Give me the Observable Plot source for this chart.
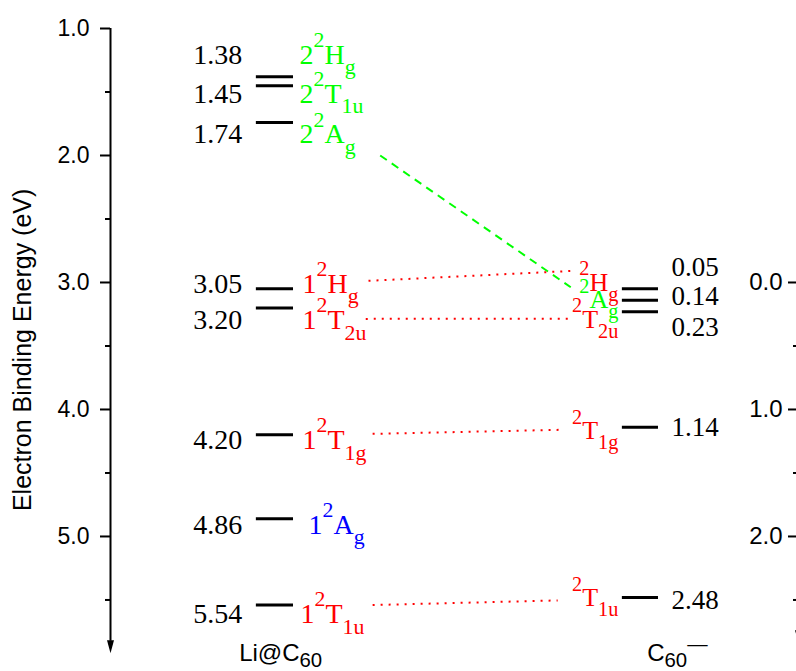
<!DOCTYPE html>
<html>
<head>
<meta charset="utf-8">
<script src="https://cdn.jsdelivr.net/npm/d3@7"></script>
<script src="https://cdn.jsdelivr.net/npm/@observablehq/plot@0.6"></script>
<style>
  html, body { margin: 0; padding: 0; background: #fff; overflow: hidden; }
  #chart svg { display: block; overflow: hidden; }
</style>
</head>
<body>
<div id="chart"></div>
<script>
// ---- Li@C60 states: term symbols (^{..} superscript, _{..} subscript), binding energies (eV)
const liStates   = ["2^{2}H_{g}", "2^{2}T_{1u}", "2^{2}A_{g}", "1^{2}H_{g}", "1^{2}T_{2u}", "1^{2}T_{1g}", "1^{2}A_{g}", "1^{2}T_{1u}"];
const liEnergies = [1.38, 1.45, 1.74, 3.05, 3.20, 4.20, 4.86, 5.54];
const liKinds    = ["second", "second", "second", "first", "first", "first", "unmatched", "first"];

// ---- C60⁻ states, energies on the right-hand scale (eV)
const c60States   = ["^{2}H_{g}", "^{2}A_{g}", "^{2}T_{2u}", "^{2}T_{1g}", "^{2}T_{1u}"];
const c60Energies = [0.05, 0.14, 0.23, 1.14, 2.48];
const c60Kinds    = ["first", "second", "first", "first", "first"];

// ---- correlated pairs [Li@C60 index, C60⁻ index]
const correlations = [[2, 1], [3, 0], [4, 2], [5, 3], [7, 4]];

// ---- axes
const leftTicks  = [1, 2, 3, 4, 5];
const leftMinor  = [1.5, 2.5, 3.5, 4.5, 5.5];
const rightTicks = [0, 1, 2];
const rightMinor = [0.5, 1.5, 2.5];
const rightZero  = 3.0;           // right-scale 0.0 sits level with 3.0 on the left scale
const axisTitle  = "Electron Binding Energy (eV)";
const columnNames = ["Li@C_{60}", "C_{60}^{—}"];

// ---- layout
const yDomain = [1.0, 5.92];
const yRange  = [28, 652.8];
const xRange  = [110, 798];
const pxPerEV = (yRange[1] - yRange[0]) / (yDomain[1] - yDomain[0]);
const ev  = px => px / pxPerEV;                           // vertical pixels -> eV
const xu  = px => px * 100 / (xRange[1] - xRange[0]);     // horizontal pixels -> x units
const LEFT_LEVEL  = [21.2, 26.6];
const RIGHT_LEVEL = [74.4, 79.65];
const leftLabelDy  = [-13, 17, 21, 4, 21, 14, 15, 18];
const leftStateDx  = [0, 0, 0, 3, 3, 3, 9, 1];
const rightStateDy = [2, 8, 16, 12, 9];
const rightValueDy = [-13, 5, 24, 9, 12];
const connectorX  = [[39.2, 66.9], [37.5, 67.3], [37.1, 66.9], [38.1, 65.7], [38.1, 65.0]];
const connectorDy = [[33, -13], [-8, -18], [11, 7], [-1, 2.5], [0, 3]];
const columnX = [18.7, 78.0];

const serif = "'Liberation Serif', 'Times New Roman', serif";
const sans  = "'Liberation Sans', Arial, sans-serif";
const kindColors = {domain: ["second", "first", "unmatched"], range: ["#00ff00", "#ff0000", "#0000ff"]};

const liRows = liStates.map((s, i) => ({state: s, energy: liEnergies[i], kind: liKinds[i], dy: leftLabelDy[i], dx: leftStateDx[i]}));
const c60Rows = c60States.map((s, i) => ({state: s, energy: c60Energies[i], kind: c60Kinds[i], sdy: rightStateDy[i], vdy: rightValueDy[i]}));
const links = correlations.map(([a, b], i) => ({
  kind: c60Rows[b].kind,
  x1: connectorX[i][0], x2: connectorX[i][1],
  y1: liRows[a].energy + ev(connectorDy[i][0]),
  y2: c60Rows[b].energy + rightZero + ev(connectorDy[i][1])
}));

// narrow filled arrowhead, tip at the anchor point
const arrowDown = {draw(ctx) { ctx.moveTo(-3.5, -13); ctx.lineTo(3.5, -13); ctx.lineTo(0, 0); ctx.closePath(); }};

const chart = Plot.plot({
  width: 796,
  height: 671,
  marginTop: yRange[0],
  marginLeft: xRange[0],
  marginRight: 0,
  marginBottom: 671 - yRange[1],
  x: {domain: [0, 100], range: xRange, axis: null},
  y: {domain: yDomain, range: yRange},
  color: kindColors,
  style: {fontFamily: sans, background: "white", color: "black"},
  marks: [
    // left energy axis
    Plot.ruleX([0], {y1: yDomain[0], y2: yDomain[1] - ev(12), strokeWidth: 2}),
    Plot.dot([0], {x: 0, y: yDomain[1], symbol: arrowDown, fill: "black", stroke: "none"}),
    Plot.axisY(leftTicks, {anchor: "left", tickSize: 10, tickPadding: 11, tickFormat: d3.format(".1f"),
      fontSize: 23, fontFamily: sans, strokeWidth: 2, label: null}),
    Plot.axisY(leftMinor, {anchor: "left", tickSize: 5, tickFormat: () => "", strokeWidth: 2, label: null}),
    Plot.text([axisTitle], {frameAnchor: "left", rotate: -90, textAnchor: "middle", dx: -88, dy: 9,
      fontSize: 25, fontFamily: sans}),

    // right-hand scale for C60⁻
    Plot.ruleX([100], {y1: rightZero, y2: rightZero + 2.84 - ev(12), strokeWidth: 2}),
    Plot.dot([100], {x: 100, y: rightZero + 2.84, symbol: arrowDown, fill: "black", stroke: "none"}),
    Plot.ruleY(rightTicks, {y: d => d + rightZero, x1: 100 - xu(10), x2: 100, strokeWidth: 2}),
    Plot.ruleY(rightMinor, {y: d => d + rightZero, x1: 100 - xu(5), x2: 100, strokeWidth: 2}),
    Plot.text(rightTicks, {x: 100, y: d => d + rightZero, text: d => d3.format(".1f")(d), textAnchor: "end",
      dx: -16, fontSize: 24, fontFamily: sans}),

    // correlation lines
    Plot.link(links.filter(d => d.kind === "second"), {x1: "x1", y1: "y1", x2: "x2", y2: "y2",
      stroke: "kind", strokeWidth: 2, strokeDasharray: "8 6"}),
    Plot.link(links.filter(d => d.kind !== "second"), {x1: "x1", y1: "y1", x2: "x2", y2: "y2",
      stroke: "kind", strokeWidth: 2, strokeDasharray: "2 6"}),

    // Li@C60 levels
    Plot.ruleY(liRows, {y: "energy", x1: LEFT_LEVEL[0], x2: LEFT_LEVEL[1], strokeWidth: 3}),
    Plot.text(liRows, {x: LEFT_LEVEL[0], y: d => d.energy + ev(d.dy), text: d => d3.format(".2f")(d.energy),
      textAnchor: "end", lineAnchor: "bottom", dx: -14, fontSize: 28, fontFamily: serif, fill: "black"}),
    Plot.text(liRows, {x: d => LEFT_LEVEL[1] + xu(d.dx), y: d => d.energy + ev(d.dy), text: "state",
      textAnchor: "start", lineAnchor: "bottom", dx: 6, fontSize: 28, fontFamily: serif, fill: "kind"}),

    // C60⁻ levels
    Plot.ruleY(c60Rows, {y: d => d.energy + rightZero, x1: RIGHT_LEVEL[0], x2: RIGHT_LEVEL[1], strokeWidth: 3}),
    Plot.text(c60Rows, {x: RIGHT_LEVEL[0], y: d => d.energy + rightZero + ev(d.sdy), text: "state",
      textAnchor: "end", lineAnchor: "bottom", dx: -4, fontSize: 26, fontFamily: serif, fill: "kind"}),
    Plot.text(c60Rows, {x: RIGHT_LEVEL[1], y: d => d.energy + rightZero + ev(d.vdy), text: d => d3.format(".2f")(d.energy),
      textAnchor: "start", lineAnchor: "bottom", dx: 13, fontSize: 27, fontFamily: serif, fill: "black"}),

    // column captions
    Plot.text(columnNames, {x: (d, i) => columnX[i], frameAnchor: "bottom", dy: 8, text: d => d,
      textAnchor: "start", lineAnchor: "bottom", fontSize: 24, fontFamily: sans})
  ]
});

document.getElementById("chart").appendChild(chart);

// Turn ^{..} / _{..} markup into raised / lowered tspans
function setRichText(node) {
  const src = node.textContent;
  if (!/[\^_]/.test(src)) return;
  const base = parseFloat(getComputedStyle(node).fontSize);
  const serifText = /Serif/.test(getComputedStyle(node).fontFamily);
  const up = serifText ? 0.6 : 0.45, down = serifText ? 0.38 : 0.25, scale = serifText ? 0.78 : 0.85;
  const runs = [];
  for (let i = 0; i < src.length;) {
    const c = src[i];
    if (c === "^" || c === "_") {
      let t;
      if (src[i + 1] === "{") { const k = src.indexOf("}", i + 2); t = src.slice(i + 2, k); i = k + 1; }
      else { t = src[i + 1]; i += 2; }
      runs.push({text: t, shift: c === "^" ? -up * base : down * base, size: scale * base});
    } else {
      let j = i;
      while (j < src.length && src[j] !== "^" && src[j] !== "_") j++;
      runs.push({text: src.slice(i, j), shift: 0, size: base});
      i = j;
    }
  }
  node.textContent = "";
  let cur = 0;
  for (const r of runs) {
    const ts = document.createElementNS("http://www.w3.org/2000/svg", "tspan");
    ts.setAttribute("dy", r.shift - cur);
    ts.setAttribute("font-size", r.size);
    ts.textContent = r.text;
    node.appendChild(ts);
    cur = r.shift;
  }
}
d3.select(chart).selectAll("text").each(function () { setRichText(this); });
</script>
</body>
</html>
